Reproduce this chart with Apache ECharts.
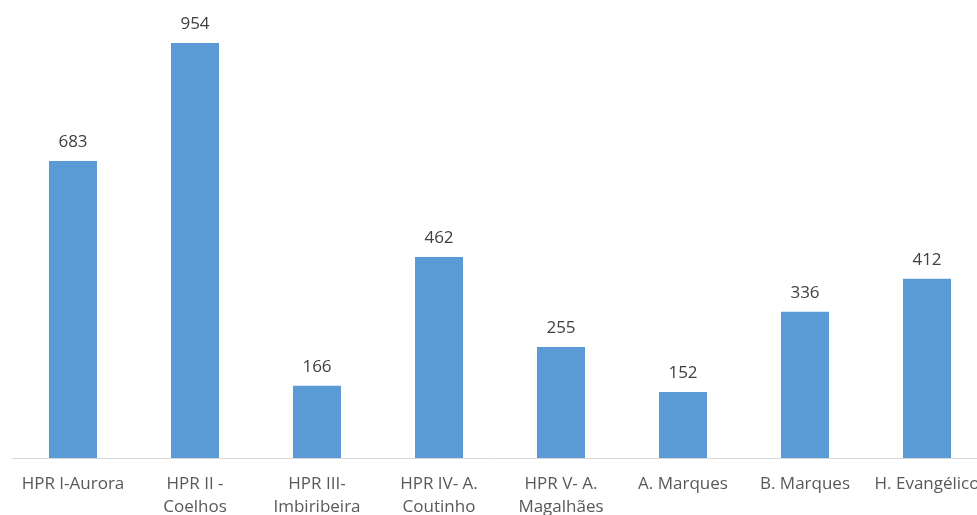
<!DOCTYPE html>
<html>
<head>
<meta charset="utf-8">
<script src="https://cdn.jsdelivr.net/npm/echarts@6/dist/echarts.min.js"></script>
<style>
  html, body { margin: 0; padding: 0; background: #fff; }
  #chart { width: 977px; height: 515px; }
</style>
</head>
<body>
<div id="chart"></div>
<script>
// 카테고리 / 값
const categories = [
  'HPR I-Aurora',
  'HPR II -\nCoelhos',
  'HPR III-\nImbiribeira',
  'HPR IV- A.\nCoutinho',
  'HPR V- A.\nMagalhães',
  'A. Marques',
  'B. Marques',
  'H. Evangélico'
];
const values = [683, 954, 166, 462, 255, 152, 336, 412];

const chart = echarts.init(document.getElementById('chart'));

chart.setOption({
  animation: false,
  textStyle: { fontFamily: 'Open Sans, Noto Sans, sans-serif' },
  grid: {
    left: 12, right: -11, top: 23, bottom: 57,
    containLabel: false,
    outerBoundsMode: 'none'
  },
  xAxis: {
    type: 'category',
    data: categories,
    axisLine: { lineStyle: { color: '#d9d9d9', width: 1 } },
    axisTick: { show: false },
    axisLabel: {
      color: '#595959',
      fontSize: 17,
      lineHeight: 23,
      margin: 15,
      interval: 0
    }
  },
  yAxis: {
    type: 'value',
    min: 0,
    max: 1000,
    show: false,
    splitLine: { show: false }
  },
  series: [{
    type: 'bar',
    data: values,
    barWidth: 48,
    itemStyle: { color: '#5b9bd5' },
    label: {
      show: true,
      position: 'top',
      distance: 10,
      color: '#404040',
      fontSize: 17
    }
  }]
});
</script>
</body>
</html>
